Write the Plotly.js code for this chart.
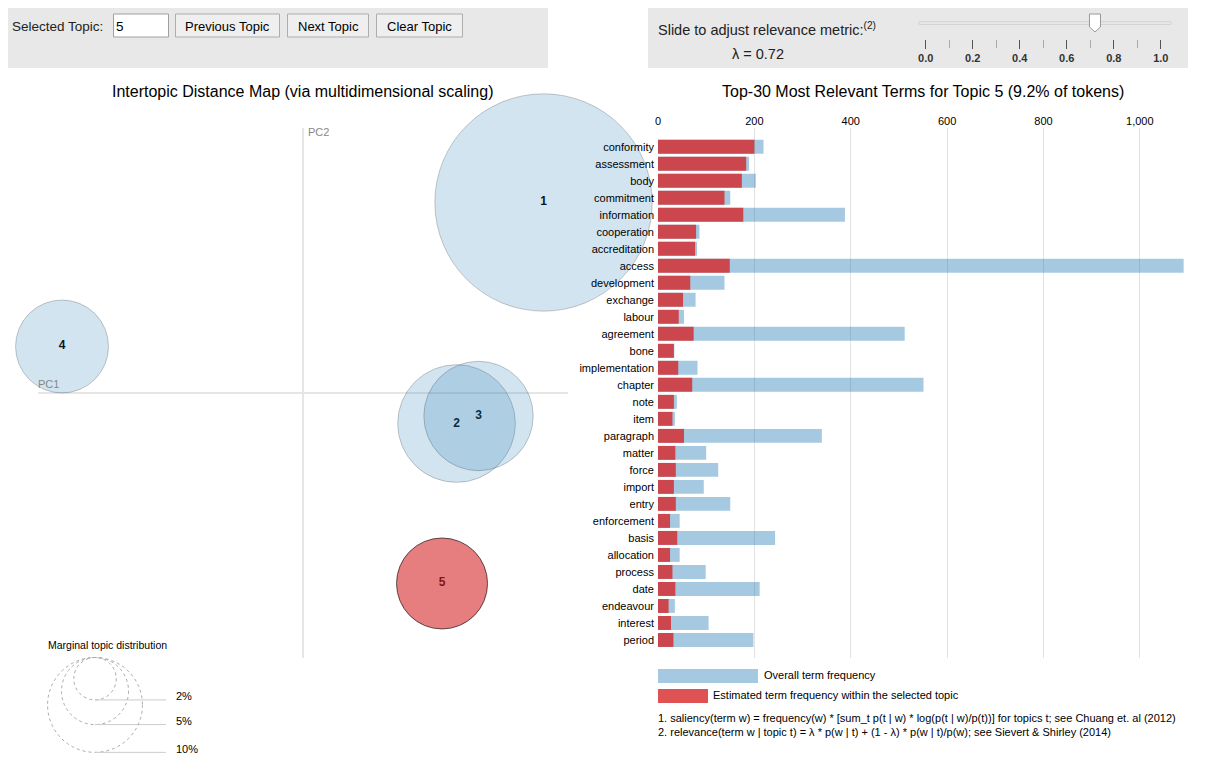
<!DOCTYPE html>
<html>
<head>
<meta charset="utf-8">
<script src="https://cdn.plot.ly/plotly-3.0.1.min.js"></script>
<style>
  html, body { margin: 0; padding: 0; background: #ffffff; }
  #chart { width: 1228px; height: 784px; }
</style>
</head>
<body>
<div id="chart"></div>
<script>
// ---------------- DATA ----------------
const topicIds = [1, 2, 3, 4, 5];
const topicPC1 = [0.2723, 0.1738, 0.1987, -0.2728, 0.1574];
const topicPC2 = [0.2151, -0.0351, -0.0266, 0.0521, -0.2162];
const topicFreq = [52.5, 15.4, 13.3, 9.6, 9.2];   // % of tokens
const selectedTopic = 5;
const lambdaValue = 0.72;

const terms = ["conformity", "assessment", "body", "commitment", "information", "cooperation",
  "accreditation", "access", "development", "exchange", "labour", "agreement", "bone",
  "implementation", "chapter", "note", "item", "paragraph", "matter", "force", "import",
  "entry", "enforcement", "basis", "allocation", "process", "date", "endeavour", "interest", "period"];
const overallFreq = [219, 189, 203, 150, 388, 86, 81, 1091, 138, 78, 54, 512, 34, 82, 551,
  39, 35, 340, 100, 125, 95, 150, 45, 243, 45, 99, 211, 35, 105, 198];
const topicTermFreq = [200, 183, 174, 138, 177, 79, 77, 149, 67, 52, 43, 74, 33, 42, 71,
  33, 30, 54, 36, 37, 33, 37, 25, 40, 25, 30, 36, 22, 27, 32];
const barTicks = [0, 200, 400, 600, 800, 1000];
const legendPcts = [2, 5, 10];
const legendLabels = ["2%", "5%", "10%"];

// ---------------- HELPERS ----------------
const W = 1228, H = 784;
const px = v => v / W;
const py = v => 1 - v / H;
const radiusPx = pct => 15 * Math.sqrt(pct);
const FONT = "Arial, 'Liberation Sans', sans-serif";

function ann(text, x, y, o) {
  o = o || {};
  return {
    text: text, x: px(x), y: py(y), xref: 'paper', yref: 'paper', showarrow: false,
    xanchor: o.xanchor || 'left', yanchor: o.yanchor || 'middle',
    borderpad: 0, borderwidth: 0,
    font: { family: FONT, size: o.size || 11, color: o.color || '#000', weight: o.weight || 'normal' }
  };
}
function rect(x0, y0, x1, y1, fill, line, lw) {
  return { type: 'rect', xref: 'paper', yref: 'paper', x0: px(x0), x1: px(x1), y0: py(y1), y1: py(y0),
    fillcolor: fill, line: { color: line || 'rgba(0,0,0,0)', width: lw === undefined ? 1 : lw }, layer: 'below' };
}

// ---------------- TRACES ----------------
const isSel = topicIds.map(t => t === selectedTopic);
const traces = [
  // labels (below circles, as in the original)
  {
    type: 'scatter', mode: 'text', x: topicPC1, y: topicPC2, xaxis: 'x', yaxis: 'y',
    text: topicIds.map(t => '<b>' + t + '</b>'),
    textposition: 'middle center',
    textfont: { family: FONT, size: 12, color: '#000' },
    hoverinfo: 'skip', showlegend: false, cliponaxis: false
  },
  {
    type: 'scatter', mode: 'markers', x: topicPC1, y: topicPC2, xaxis: 'x', yaxis: 'y',
    marker: {
      size: topicFreq.map(f => 2 * radiusPx(f)), sizemode: 'diameter', opacity: 1,
      color: isSel.map(s => s ? 'rgba(214,39,40,0.6)' : 'rgba(31,119,180,0.2)'),
      line: { width: 1, color: isSel.map(s => s ? 'rgba(0,0,0,0.6)' : 'rgba(0,0,0,0.2)') }
    },
    hoverinfo: 'skip', showlegend: false, cliponaxis: false
  },
  {
    type: 'bar', orientation: 'h', x: overallFreq, y: terms, xaxis: 'x2', yaxis: 'y2',
    marker: { color: 'rgba(31,119,180,0.4)', line: { width: 0 } },
    hoverinfo: 'skip', showlegend: false
  },
  {
    type: 'bar', orientation: 'h', x: topicTermFreq, y: terms, xaxis: 'x2', yaxis: 'y2',
    marker: { color: 'rgba(214,39,40,0.8)', line: { width: 0 } },
    hoverinfo: 'skip', showlegend: false
  },
  // invisible trace to anchor slider scale axis
  {
    type: 'scatter', mode: 'markers', x: [lambdaValue], y: [0], xaxis: 'x3', yaxis: 'y3',
    marker: { size: 1, color: 'rgba(0,0,0,0)' }, hoverinfo: 'skip', showlegend: false
  }
];

// ---------------- SHAPES ----------------
const shapes = [
  rect(8, 8, 548, 68, '#e8e8e8', null, 0),
  rect(648, 8, 1188, 68, '#e8e8e8', null, 0),
  rect(113.5, 14, 168.5, 37, '#ffffff', '#a0a0a0', 1),
  rect(175.5, 14, 279.5, 37, '#efefef', '#adadad', 1),
  rect(287.5, 14, 368.5, 37, '#efefef', '#adadad', 1),
  rect(376.5, 14, 462.5, 37, '#efefef', '#adadad', 1),
  // slider track
  rect(919, 21.5, 1171, 24.5, '#e6e6e6', '#d4d4d4', 1),
  // slider handle at lambda
  {
    type: 'path', xref: 'x3', yref: 'paper', xsizemode: 'pixel', xanchor: lambdaValue,
    path: 'M -5.5,' + py(14) + ' L 5.5,' + py(14) + ' L 5.5,' + py(27) + ' L 0,' + py(32) +
      ' L -5.5,' + py(27) + ' Z',
    fillcolor: '#ffffff', line: { color: '#999999', width: 1 }
  },
  // bar legend
  rect(658, 669, 758, 683, 'rgba(31,119,180,0.4)', null, 0),
  rect(658, 689, 708, 703, 'rgba(214,39,40,0.8)', null, 0)
];

// marginal topic distribution legend circles
const legCx = 95, legTop = 657.5;
legendPcts.forEach(p => {
  const r = radiusPx(p);
  const cy = legTop + r;
  shapes.push({
    type: 'circle', xref: 'paper', yref: 'paper',
    x0: px(legCx - r), x1: px(legCx + r), y0: py(cy + r), y1: py(cy - r),
    line: { color: '#aaaaaa', width: 1, dash: 'dot' }, fillcolor: 'rgba(0,0,0,0)'
  });
  shapes.push({
    type: 'line', xref: 'paper', yref: 'paper',
    x0: px(legCx), x1: px(166), y0: py(cy + r), y1: py(cy + r),
    line: { color: '#cccccc', width: 1 }
  });
});

// ---------------- ANNOTATIONS ----------------
const annotations = [
  ann('Selected Topic:', 12, 26, { size: 13.5, color: '#222' }),
  ann(String(selectedTopic), 116, 26, { size: 13.5 }),
  ann('Previous Topic', 227.5, 26, { size: 13, xanchor: 'center' }),
  ann('Next Topic', 328, 26, { size: 13, xanchor: 'center' }),
  ann('Clear Topic', 419.5, 26, { size: 13, xanchor: 'center' }),
  ann('Slide to adjust relevance metric:<sup>(2)</sup>', 658, 29, { size: 14.5, color: '#222' }),
  ann('λ = ' + lambdaValue.toFixed(2), 758, 54, { size: 14.5, xanchor: 'center', color: '#222' }),
  ann('Intertopic Distance Map (via multidimensional scaling)', 303, 92, { size: 16, xanchor: 'center' }),
  ann('Top-30 Most Relevant Terms for Topic ' + selectedTopic + ' (' +
      topicFreq[selectedTopic - 1].toFixed(1) + '% of tokens)', 923, 92, { size: 16, xanchor: 'center' }),
  ann('PC2', 308, 132, { size: 11, color: '#888' }),
  ann('PC1', 38, 384, { size: 11, color: '#888' }),
  ann('Marginal topic distribution', 48, 644.5, { size: 10.5 }),
  ann('Overall term frequency', 764, 675, { size: 11 }),
  ann('Estimated term frequency within the selected topic', 713, 695, { size: 11 }),
  ann('1. saliency(term w) = frequency(w) * [sum_t p(t | w) * log(p(t | w)/p(t))] for topics t; see Chuang et. al (2012)', 658, 718, { size: 11 }),
  ann('2. relevance(term w | topic t) = λ * p(w | t) + (1 - λ) * p(w | t)/p(w); see Sievert &amp; Shirley (2014)', 658, 732, { size: 11 })
];
legendPcts.forEach((p, i) => {
  const r = radiusPx(p);
  annotations.push(ann(legendLabels[i], 176, legTop + 2 * r - 3.5, { size: 11 }));
});

// ---------------- LAYOUT ----------------
const layout = {
  width: W, height: H, autosize: false,
  margin: { l: 0, r: 0, t: 0, b: 0, pad: 0 },
  paper_bgcolor: '#ffffff', plot_bgcolor: 'rgba(0,0,0,0)',
  font: { family: FONT, size: 11, color: '#000' },
  showlegend: false, barmode: 'overlay', bargap: 0.18,
  xaxis: {
    domain: [px(38), px(568)], range: [-0.3, 0.3], anchor: 'y',
    showgrid: false, showticklabels: false, ticks: '', showline: false,
    zeroline: true, zerolinecolor: '#e6e6e6', zerolinewidth: 2, fixedrange: true
  },
  yaxis: {
    domain: [py(657.5), py(127.5)], range: [-0.3, 0.3], anchor: 'x',
    showgrid: false, showticklabels: false, ticks: '', showline: false,
    zeroline: true, zerolinecolor: '#e6e6e6', zerolinewidth: 2, fixedrange: true
  },
  xaxis2: {
    domain: [px(658), px(1188)], range: [0, 1100], anchor: 'y2', side: 'top',
    tickmode: 'array', tickvals: barTicks, tickformat: ',', ticks: '',
    tickfont: { family: FONT, size: 11, color: '#000' }, ticklabelstandoff: 0,
    showgrid: true, gridcolor: '#e2e2e2', gridwidth: 1, zeroline: false, showline: false, fixedrange: true
  },
  yaxis2: {
    domain: [py(658), py(128)], type: 'category', range: [30.06, -1.10], anchor: 'x2',
    tickmode: 'array', tickvals: terms, ticks: '', showgrid: false, zeroline: false, showline: false,
    tickfont: { family: FONT, size: 11, color: '#000' }, ticklabelstandoff: 3, fixedrange: true
  },
  xaxis3: {
    domain: [px(925.7), px(1160.8)], range: [0, 1], anchor: 'y3', side: 'bottom',
    tickmode: 'linear', tick0: 0, dtick: 0.2, tickformat: '.1f',
    ticks: 'outside', ticklen: 9, tickwidth: 1, tickcolor: '#555555',
    minor: { tickmode: 'linear', tick0: 0, dtick: 0.1, ticks: 'outside', ticklen: 8, tickwidth: 1, tickcolor: '#aaaaaa' },
    tickfont: { family: FONT, size: 11, color: '#333', weight: 'bold' },
    showgrid: false, zeroline: false, showline: false, fixedrange: true
  },
  yaxis3: {
    domain: [py(39), py(30)], range: [-1, 1], anchor: 'x3', visible: false, fixedrange: true
  },
  shapes: shapes,
  annotations: annotations
};

Plotly.newPlot('chart', traces, layout, { displayModeBar: false, staticPlot: true });
</script>
</body>
</html>
